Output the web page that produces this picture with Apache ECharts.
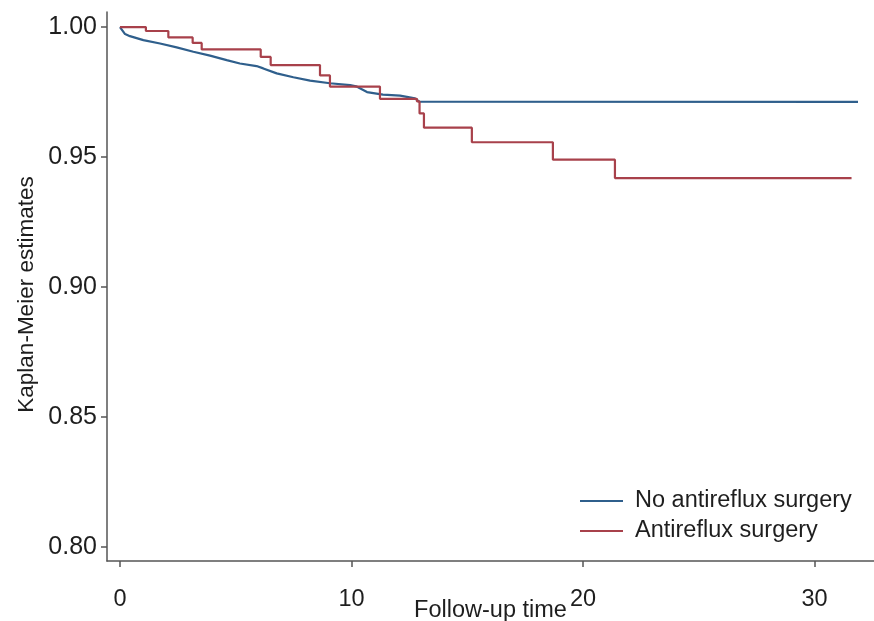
<!DOCTYPE html>
<html>
<head>
<meta charset="utf-8">
<script src="https://cdn.jsdelivr.net/npm/echarts@6/dist/echarts.min.js"></script>
<style>
  html, body { margin: 0; padding: 0; background: #fff; }
  #chart { width: 874px; height: 621px; }
</style>
</head>
<body>
<div id="chart"></div>
<script>
// KM estimates
const noSurgeryTime = [0, 0.22, 0.43, 1.01, 1.73, 2.45, 3.17, 3.89, 4.61, 5.18, 5.9, 6.19, 6.77, 7.49, 8.21, 9.07, 9.94, 10.2, 10.67, 11.36, 12.1, 12.74, 12.92, 31.88]
const noSurgerySurv = [1.0, 0.9973, 0.9965, 0.995, 0.9937, 0.9922, 0.9905, 0.989, 0.9873, 0.986, 0.985, 0.9841, 0.9822, 0.9807, 0.9794, 0.9784, 0.9777, 0.9772, 0.975, 0.974, 0.9736, 0.9726, 0.9713, 0.9712]

const surgeryTime = [0, 1.12, 2.09, 3.14, 3.53, 6.08, 6.51, 8.64, 9.07, 11.23, 12.83, 12.94, 13.13, 15.2, 18.7, 21.38, 31.6]
const surgerySurv = [1.0, 0.9985, 0.996, 0.9939, 0.9914, 0.9885, 0.9854, 0.9814, 0.9771, 0.9724, 0.9714, 0.9668, 0.9613, 0.9557, 0.949, 0.9419, 0.9419]

const xTicks = [0, 10, 20, 30]
const yTicks = [0.80, 0.85, 0.90, 0.95, 1.00]

const seriesNames = ['No antireflux surgery', 'Antireflux surgery']

const font = '"Liberation Sans", Arial, sans-serif'
const axisColor = '#555'
const textColor = '#1e1e1e'

const chart = echarts.init(document.getElementById('chart'))

function pairs(xs, ys) {
  return xs.map((x, i) => [x, ys[i]])
}

chart.setOption({
  animation: false,
  grid: { left: 107, right: 0, top: 12, bottom: 60, outerBoundsMode: 'none' },
  legend: {
    orient: 'vertical',
    left: 580,
    top: 489,
    padding: 0,
    icon: 'rect',
    itemWidth: 43,
    itemHeight: 2,
    itemGap: 6,
    data: seriesNames,
    textStyle: { fontFamily: font, fontSize: 23.5, lineHeight: 24, color: textColor, padding: [0, 0, 0, 7] },
  },
  xAxis: {
    type: 'value',
    min: -0.56,
    max: 32.57,
    name: 'Follow-up time',
    nameLocation: 'middle',
    nameGap: 38,
    nameMoveOverlap: false,
    nameTextStyle: { fontFamily: font, fontSize: 23.5, color: textColor },
    splitLine: { show: false },
    axisLine: { show: true, onZero: false, lineStyle: { color: axisColor, width: 1.5 } },
    axisTick: { show: true, length: 6, customValues: xTicks, lineStyle: { color: axisColor, width: 1.5 } },
    axisLabel: { customValues: xTicks, margin: 27, fontFamily: font, fontSize: 23.5, color: textColor },
  },
  yAxis: {
    type: 'value',
    min: 0.7946,
    max: 1.0058,
    name: 'Kaplan-Meier estimates',
    nameLocation: 'middle',
    nameGap: 69,
    nameMoveOverlap: false,
    nameTextStyle: { fontFamily: font, fontSize: 22.5, color: textColor, padding: [0, 16, 0, 0] },
    splitLine: { show: false },
    axisLine: { show: true, onZero: false, lineStyle: { color: axisColor, width: 1.5 } },
    axisTick: { show: true, length: 6, customValues: yTicks, lineStyle: { color: axisColor, width: 1.5 } },
    axisLabel: {
      customValues: yTicks,
      margin: 10,
      fontFamily: font,
      fontSize: 25,
      color: textColor,
      formatter: (v) => v.toFixed(2),
    },
  },
  series: [
    {
      name: seriesNames[0],
      type: 'line',
      data: pairs(noSurgeryTime, noSurgerySurv),
      showSymbol: false,
      symbol: 'none',
      lineStyle: { color: '#2F5F8C', width: 2.2 },
      itemStyle: { color: '#2F5F8C' },
    },
    {
      name: seriesNames[1],
      type: 'line',
      step: 'end',
      data: pairs(surgeryTime, surgerySurv),
      showSymbol: false,
      symbol: 'none',
      lineStyle: { color: '#A8414B', width: 2.2 },
      itemStyle: { color: '#A8414B' },
    },
  ],
})
</script>
</body>
</html>
